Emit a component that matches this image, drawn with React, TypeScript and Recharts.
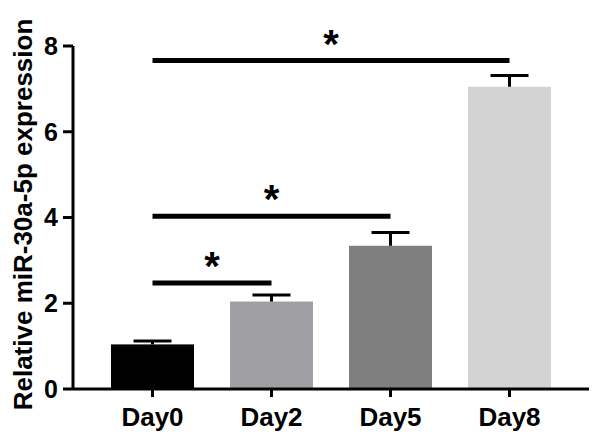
import { BarChart, Bar, XAxis, YAxis, ReferenceLine, Cell } from "recharts"

// values
const days = ["Day0", "Day2", "Day5", "Day8"]
const expression = [1.04, 2.04, 3.34, 7.05]
const errors = [0.08, 0.15, 0.31, 0.26]
const barColors = ["#000000", "#a0a0a4", "#7f7f7f", "#d3d3d3"]
const yTicks = [0, 2, 4, 6, 8]

// significance brackets: from Day0 to target, height of the line
const sigTargets = ["Day2", "Day5", "Day8"]
const sigHeights = [2.47, 4.03, 7.66]

const data = days.map((day, i) => ({ day, value: expression[i], err: errors[i] }))

function BarWithError(props: any) {
  const { x, y, width, height, fill, payload } = props
  const ppu = height / payload.value
  const top = y - payload.err * ppu
  const cx = x + width / 2
  return (
    <g>
      <rect x={x} y={y} width={width} height={height} fill={fill} />
      <line x1={cx} x2={cx} y1={y} y2={top} stroke="#000" strokeWidth={3} />
      <line x1={cx - 19} x2={cx + 19} y1={top} y2={top} stroke="#000" strokeWidth={3} />
    </g>
  )
}

export default function App() {
  return (
    <div style={{ width: 600, height: 443, fontFamily: '"Liberation Sans", Arial, sans-serif', background: "#fff" }}>
      <style>{"body{margin:0}"}</style>
      <BarChart width={600} height={443} data={data} margin={{ top: 46, right: 11, bottom: 0, left: 0 }}>
        <XAxis
          dataKey="day"
          padding={{ left: 20, right: 20 }}
          height={54}
          tickSize={8}
          tickMargin={11}
          axisLine={{ stroke: "#000", strokeWidth: 3 }}
          tickLine={{ stroke: "#000", strokeWidth: 3 }}
          tick={{ fontSize: 26, fontWeight: "bold", fill: "#000" }}
        />
        <YAxis
          domain={[0, 8]}
          ticks={yTicks}
          width={73}
          tickSize={10}
          tickMargin={5}
          axisLine={{ stroke: "#000", strokeWidth: 3 }}
          tickLine={{ stroke: "#000", strokeWidth: 3 }}
          tick={{ fontSize: 25, fontWeight: "bold", fill: "#000" }}
          label={{
            value: "Relative miR-30a-5p expression",
            angle: -90,
            position: "center",
            dx: -14,
            dy: -3,
            fontSize: 26,
            fontWeight: "bold",
            fill: "#000",
          }}
        />
        <Bar dataKey="value" barSize={83} shape={<BarWithError />} isAnimationActive={false}>
          {data.map((d, i) => (
            <Cell key={d.day} fill={barColors[i]} />
          ))}
        </Bar>
        {sigTargets.map((t, i) => (
          <ReferenceLine
            key={t}
            segment={[
              { x: "Day0", y: sigHeights[i] },
              { x: t, y: sigHeights[i] },
            ]}
            stroke="#000"
            strokeWidth={5}
            label={{ value: "*", position: "top", offset: 3, fontSize: 40, fontWeight: "bold", fill: "#000" }}
          />
        ))}
      </BarChart>
    </div>
  )
}
